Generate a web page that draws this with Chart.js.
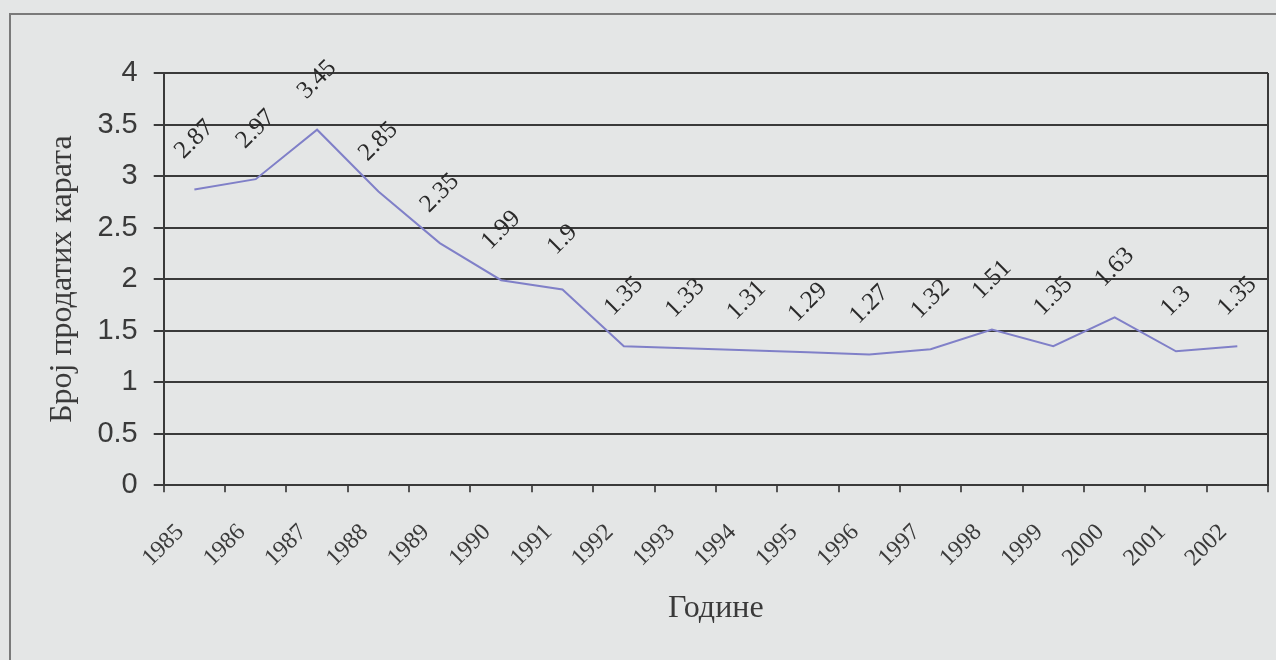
<!DOCTYPE html>
<html>
<head>
<meta charset="utf-8">
<script src="https://cdn.jsdelivr.net/npm/chart.js@4/dist/chart.umd.min.js"></script>
<style>
  html, body { margin: 0; padding: 0; background: #e4e6e6; overflow: hidden; }
  #wrap { position: relative; width: 1276px; height: 660px; overflow: hidden; }
  #frame { position: absolute; left: 9px; top: 13px; width: 1400px; height: 800px; border: 2px solid #7a7a7a; box-sizing: border-box; }
  canvas { position: absolute; left: 0; top: 0; }
</style>
</head>
<body>
<div id="wrap">
  <div id="frame"></div>
  <canvas id="salesChart" width="1276" height="660"></canvas>
</div>
<script>
const years = ['1985', '1986', '1987', '1988', '1989', '1990', '1991', '1992', '1993',
               '1994', '1995', '1996', '1997', '1998', '1999', '2000', '2001', '2002'];
const tickets = [2.87, 2.97, 3.45, 2.85, 2.35, 1.99, 1.9, 1.35, 1.33,
                 1.31, 1.29, 1.27, 1.32, 1.51, 1.35, 1.63, 1.3, 1.35];
const yTitle = 'Број продатих карата';
const xTitle = 'Године';

// rotated value labels above each point
const valueLabels = {
  id: 'valueLabels',
  afterDatasetsDraw(chart) {
    const ctx = chart.ctx;
    const meta = chart.getDatasetMeta(0);
    ctx.save();
    ctx.font = '25px "Liberation Serif", serif';
    ctx.fillStyle = '#2a2a2a';
    ctx.textAlign = 'center';
    ctx.textBaseline = 'middle';
    meta.data.forEach((pt, i) => {
      ctx.save();
      ctx.translate(pt.x, pt.y - 50);
      ctx.rotate(-Math.PI / 4);
      ctx.fillText(String(tickets[i]), 0, 0);
      ctx.restore();
    });
    ctx.restore();
  }
};

// right edge of the plot area
const plotEdge = {
  id: 'plotEdge',
  afterDraw(chart) {
    const { ctx, chartArea } = chart;
    ctx.save();
    ctx.strokeStyle = '#3a3a3a';
    ctx.lineWidth = 2;
    ctx.beginPath();
    ctx.moveTo(chartArea.right, chartArea.top);
    ctx.lineTo(chartArea.right, chartArea.bottom);
    ctx.stroke();
    ctx.restore();
  }
};

const ctx = document.getElementById('salesChart').getContext('2d');
new Chart(ctx, {
  type: 'line',
  data: {
    labels: years,
    datasets: [{
      data: tickets,
      borderColor: '#8080c8',
      borderWidth: 2,
      pointRadius: 0,
      tension: 0,
      fill: false
    }]
  },
  options: {
    responsive: false,
    animation: false,
    layout: { padding: { top: 73, right: 8, bottom: 32, left: 43 } },
    plugins: {
      legend: { display: false },
      tooltip: { enabled: false }
    },
    scales: {
      y: {
        min: 0,
        max: 4,
        ticks: {
          stepSize: 0.5,
          color: '#3a3a3a',
          font: { family: '"Liberation Sans", Arial, sans-serif', size: 29 },
          padding: 16,
          callback: v => String(v)
        },
        grid: { color: '#3a3a3a', lineWidth: 2, tickLength: 10 },
        border: { color: '#3a3a3a', width: 2 },
        title: {
          display: true,
          text: yTitle,
          color: '#3a3a3a',
          font: { family: '"Liberation Serif", serif', size: 32 },
          padding: { top: 0, bottom: 0 }
        }
      },
      x: {
        offset: true,
        afterFit(scale) { scale.paddingRight = 0; },
        ticks: {
          minRotation: 45,
          maxRotation: 45,
          color: '#3a3a3a',
          font: { family: '"Liberation Serif", serif', size: 24 },
          padding: 26,
          labelOffset: -14
        },
        grid: { drawOnChartArea: false, color: '#555', lineWidth: 2, tickLength: 7, offset: true },
        border: { color: '#3a3a3a', width: 2 },
        title: {
          display: true,
          text: xTitle,
          color: '#3a3a3a',
          font: { family: '"Liberation Serif", serif', size: 32 },
          padding: { top: -9, bottom: 0 }
        }
      }
    }
  },
  plugins: [valueLabels, plotEdge]
});
</script>
</body>
</html>
